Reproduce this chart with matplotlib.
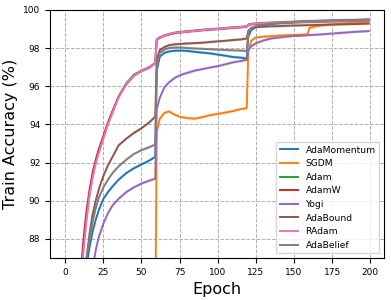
import numpy as np
import matplotlib
matplotlib.use("Agg")
import matplotlib.pyplot as plt

epochs = [0, 5, 10, 12, 14, 16, 18, 20, 22, 25, 28, 31, 35, 40, 45, 50, 55, 59,
          60, 62, 65, 68, 72, 76, 80, 85, 90, 95, 100, 105, 110, 115, 119,
          120, 122, 125, 130, 135, 140, 145, 150, 155, 159,
          160, 165, 170, 175, 180, 185, 190, 195, 199]

ada_momentum = [40, 70, 82.0, 84.5, 86.6, 87.6, 88.4, 89.0, 89.5, 90.1, 90.45, 90.75, 91.1, 91.45, 91.7, 91.9, 92.1, 92.3,
                96.8, 97.55, 97.75, 97.82, 97.86, 97.87, 97.85, 97.8, 97.76, 97.72, 97.66, 97.6, 97.53, 97.5, 97.45,
                98.6, 98.95, 99.1, 99.2, 99.26, 99.3, 99.33, 99.36, 99.38, 99.4,
                99.4, 99.42, 99.43, 99.44, 99.45, 99.46, 99.47, 99.48, 99.49]
sgdm = [30, 60, 70, 72, 73.5, 75, 76, 77, 77.8, 78.8, 79.6, 80.3, 81, 81.7, 82.3, 82.8, 83.2, 83.5,
        93.6, 94.3, 94.6, 94.68, 94.5, 94.38, 94.33, 94.3, 94.38, 94.48, 94.55, 94.62, 94.7, 94.8, 94.85,
        97.8, 98.4, 98.55, 98.6, 98.62, 98.65, 98.67, 98.69, 98.7, 98.72,
        99.05, 99.15, 99.2, 99.24, 99.28, 99.31, 99.33, 99.35, 99.37]
radam = [45, 75, 85.5, 87.4, 89.0, 90.3, 91.2, 91.95, 92.5, 93.25, 94.0, 94.6, 95.4, 96.1, 96.55, 96.8, 96.95, 97.2,
         98.43, 98.55, 98.65, 98.72, 98.8, 98.83, 98.87, 98.9, 98.95, 98.98, 99.0, 99.04, 99.07, 99.1, 99.13,
         99.22, 99.26, 99.28, 99.3, 99.32, 99.34, 99.35, 99.36, 99.37, 99.38,
         99.38, 99.39, 99.4, 99.41, 99.42, 99.43, 99.44, 99.45, 99.46]
adam = [45, 75, 85.7, 87.6, 89.2, 90.4, 91.3, 92.0, 92.6, 93.3, 94.05, 94.65, 95.45, 96.15, 96.6, 96.82, 96.98, 97.22,
        98.45, 98.56, 98.66, 98.73, 98.8, 98.84, 98.88, 98.91, 98.95, 98.98, 99.01, 99.04, 99.08, 99.1, 99.14,
        99.23, 99.26, 99.29, 99.31, 99.33, 99.34, 99.36, 99.37, 99.38, 99.39,
        99.39, 99.4, 99.41, 99.42, 99.43, 99.44, 99.45, 99.46, 99.47]
adamw = [46, 76, 86.0, 88.0, 89.5, 90.6, 91.5, 92.15, 92.7, 93.4, 94.1, 94.7, 95.45, 96.1, 96.55, 96.8, 96.97, 97.2,
         98.42, 98.54, 98.64, 98.71, 98.79, 98.83, 98.86, 98.9, 98.94, 98.97, 99.0, 99.03, 99.06, 99.09, 99.12,
         99.21, 99.25, 99.27, 99.29, 99.31, 99.33, 99.34, 99.35, 99.36, 99.37,
         99.37, 99.38, 99.39, 99.4, 99.41, 99.42, 99.43, 99.44, 99.45]
yogi = [35, 65, 78, 81, 83.5, 85.3, 86.5, 87.4, 88.1, 88.8, 89.35, 89.75, 90.1, 90.45, 90.7, 90.9, 91.05, 91.15,
        94.8, 95.4, 95.95, 96.2, 96.45, 96.6, 96.7, 96.82, 96.9, 96.98, 97.05, 97.15, 97.25, 97.32, 97.38,
        97.9, 98.1, 98.25, 98.4, 98.5, 98.55, 98.6, 98.63, 98.65, 98.67,
        98.68, 98.7, 98.73, 98.76, 98.79, 98.82, 98.85, 98.87, 98.89]
adabound = [40, 70, 83.0, 85.5, 87.0, 88.3, 89.3, 90.0, 90.6, 91.3, 91.85, 92.3, 92.9, 93.25, 93.55, 93.8, 94.1, 94.4,
            97.4, 97.9, 98.05, 98.15, 98.2, 98.22, 98.24, 98.26, 98.28, 98.32, 98.35, 98.38, 98.42, 98.45, 98.5,
            98.9, 99.05, 99.1, 99.12, 99.14, 99.15, 99.17, 99.18, 99.19, 99.2,
            99.2, 99.21, 99.22, 99.23, 99.24, 99.25, 99.26, 99.27, 99.28]
adabelief = [40, 70, 82.5, 85.0, 87.0, 88.0, 88.9, 89.6, 90.15, 90.7, 91.1, 91.45, 91.8, 92.15, 92.45, 92.65, 92.8, 92.95,
             97.0, 97.75, 97.92, 98.0, 98.03, 98.03, 98.0, 97.98, 97.96, 97.94, 97.92, 97.9, 97.88, 97.87, 97.85,
             98.8, 99.05, 99.15, 99.22, 99.28, 99.31, 99.34, 99.37, 99.39, 99.4,
             99.41, 99.42, 99.43, 99.44, 99.45, 99.46, 99.47, 99.48, 99.49]

names = ["AdaMomentum", "SGDM", "Adam", "AdamW", "Yogi", "AdaBound", "RAdam", "AdaBelief"]
series = [ada_momentum, sgdm, adam, adamw, yogi, adabound, radam, adabelief]

fig, ax = plt.subplots(figsize=(3.91, 3.0), dpi=100)
fig.subplots_adjust(left=0.128, right=0.982, top=0.967, bottom=0.14)

x = np.array(epochs)
for name, vals in zip(names, series):
    v = np.array(vals)
    line, = ax.plot(x, v, label=name, linewidth=1.4)
    ax.fill_between(x, v - 0.08, v + 0.08, color=line.get_color(), alpha=0.2, linewidth=0)

ax.set_ylim(87, 100)
ax.set_xlim(-9.95, 208.95)
ax.set_xticks([0, 25, 50, 75, 100, 125, 150, 175, 200])
ax.set_yticks([88, 90, 92, 94, 96, 98, 100])
ax.tick_params(labelsize=6.5)
ax.grid(True, linestyle="--", color="#b0b0b0", linewidth=0.7)
ax.set_xlabel("Epoch", fontsize=11.5)
ax.set_ylabel("Train Accuracy (%)", fontsize=11.5)
ax.legend(loc="lower right", fontsize=6.6)

fig.savefig("out.png", dpi=100)
